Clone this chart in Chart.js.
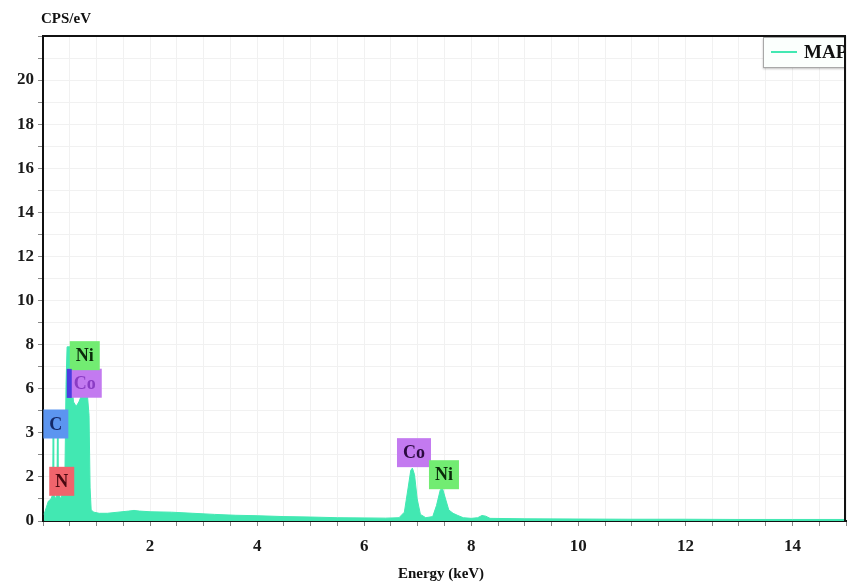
<!DOCTYPE html>
<html>
<head>
<meta charset="utf-8">
<script src="https://cdn.jsdelivr.net/npm/chart.js@4.4.1/dist/chart.umd.min.js"></script>
<style>
  body { margin: 0; background: #fff; }
  #wrap { width: 847px; height: 583px; }
</style>
</head>
<body>
<div id="wrap"><canvas id="spectrum" width="847" height="583"></canvas></div>
<script>
// spectrum (keV, CPS/eV)
const energy = [0.02, 0.06, 0.10, 0.15, 0.18, 0.19, 0.20, 0.24, 0.26, 0.27, 0.28, 0.33, 0.38, 0.41,
  0.43, 0.45, 0.52, 0.54, 0.57, 0.62, 0.67, 0.72, 0.78, 0.83, 0.86, 0.88, 0.90, 0.95, 1.05,
  1.2, 1.4, 1.6, 1.7, 1.8, 2.0, 2.4, 2.8, 3.2, 3.6, 4.0, 4.5, 5.0, 5.5, 6.0, 6.4, 6.65,
  6.75, 6.82, 6.87, 6.90, 6.94, 6.99, 7.05, 7.15, 7.28, 7.35, 7.42, 7.46, 7.52, 7.58, 7.66,
  7.75, 7.85, 8.0, 8.12, 8.2, 8.27, 8.35, 9, 10, 11, 12, 13, 14, 15];
const cps = [0.3, 0.6, 0.9, 1.0, 1.2, 4.2, 1.2, 1.0, 1.3, 4.2, 1.3, 1.0, 1.4, 2.2,
  6.2, 7.9, 7.9, 6.2, 5.4, 5.2, 5.4, 5.7, 5.8, 5.7, 4.8, 1.5, 0.5, 0.4, 0.35,
  0.35, 0.4, 0.45, 0.48, 0.45, 0.42, 0.4, 0.35, 0.3, 0.26, 0.24, 0.2, 0.18, 0.15, 0.14, 0.13, 0.15,
  0.4, 1.5, 2.3, 2.4, 2.1, 1.0, 0.3, 0.15, 0.2, 0.7, 1.4, 1.5, 1.0, 0.5, 0.35,
  0.25, 0.15, 0.12, 0.15, 0.25, 0.22, 0.12, 0.1, 0.09, 0.08, 0.08, 0.07, 0.07, 0.07];

// y tick labels as printed (4 is labelled "3" in the original)
const yTickValues = [0, 2, 4, 6, 8, 10, 12, 14, 16, 18, 20];
const yTickLabels = ['0', '2', '3', '6', '8', '10', '12', '14', '16', '18', '20'];
const xTickValues = [2, 4, 6, 8, 10, 12, 14];

// element labels placed at peaks
const peakNames = ['C', 'N', 'Co', 'Ni', 'Co', 'Ni'];
const peakEnergy = [0.24, 0.35, 0.78, 0.78, 6.93, 7.49];
const peakLevel = [4.4, 1.8, 6.25, 7.5, 3.1, 2.1];

const seriesName = 'MAP';
const fillColor = '#42e8b2';
const serif = "'Liberation Serif', 'Times New Roman', serif";

const boxColors = { C: '#5c95f0', N: '#f0646c', Co: '#c37af0', Ni: '#72ec72' };
const textColors = { C: '#142868', N: '#4a0810', Co: '#2a0a40', Ni: '#0a2a0a' };

const peakLabels = {
  id: 'peakLabels',
  afterDatasetsDraw(chart) {
    const { ctx, scales: { x, y }, chartArea: a } = chart;
    ctx.save();
    ctx.font = 'bold 18px ' + serif;
    ctx.textAlign = 'center';
    ctx.textBaseline = 'middle';
    peakNames.forEach((name, i) => {
      const cx = x.getPixelForValue(peakEnergy[i]);
      const cy = y.getPixelForValue(peakLevel[i]);
      const w = ctx.measureText(name).width + 12;
      const h = 29;
      ctx.fillStyle = boxColors[name];
      ctx.fillRect(cx - w / 2, cy - h / 2, w, h);
      // the low energy Co label is printed in purple
      ctx.fillStyle = (i === 2) ? '#8a3cc4' : textColors[name];
      ctx.fillText(name, cx, cy + 1);
    });
    // small dark marker left of the low Co box
    const mx = x.getPixelForValue(peakEnergy[2]) - 18;
    ctx.fillStyle = '#4a3ce0';
    ctx.fillRect(mx, y.getPixelForValue(6.9), 5, 29);

    // frame on top and right
    ctx.strokeStyle = '#111';
    ctx.lineWidth = 2;
    ctx.beginPath();
    ctx.moveTo(a.left, a.top);
    ctx.lineTo(a.right - 1, a.top);
    ctx.lineTo(a.right - 1, a.bottom);
    ctx.stroke();

    // legend box, cut by the right edge
    ctx.save();
    ctx.beginPath();
    ctx.rect(a.left, a.top, a.right - a.left - 2, a.bottom - a.top);
    ctx.clip();
    const lx = a.right - 83, ly = a.top + 1;
    ctx.shadowColor = 'rgba(0,0,0,0.25)';
    ctx.shadowOffsetY = 2;
    ctx.shadowBlur = 2;
    ctx.fillStyle = '#fbfffd';
    ctx.fillRect(lx, ly, 100, 30);
    ctx.shadowColor = 'transparent';
    ctx.strokeStyle = '#a8a8a8';
    ctx.lineWidth = 1;
    ctx.strokeRect(lx + 0.5, ly + 0.5, 100, 30);
    ctx.strokeStyle = fillColor;
    ctx.lineWidth = 2;
    ctx.beginPath();
    ctx.moveTo(lx + 8, ly + 15);
    ctx.lineTo(lx + 34, ly + 15);
    ctx.stroke();
    ctx.fillStyle = '#111';
    ctx.font = 'bold 19px ' + serif;
    ctx.textAlign = 'left';
    ctx.fillText(seriesName, lx + 41, ly + 16);
    ctx.restore();

    // axis titles
    ctx.fillStyle = '#111';
    ctx.font = 'bold 15px ' + serif;
    ctx.textAlign = 'left';
    ctx.textBaseline = 'alphabetic';
    ctx.fillText('CPS/eV', 41, 23);
    ctx.textAlign = 'center';
    ctx.fillText('Energy (keV)', 441, 578);
    ctx.restore();
  }
};

new Chart(document.getElementById('spectrum'), {
  type: 'line',
  data: {
    datasets: [{
      label: seriesName,
      data: energy.map((e, i) => ({ x: e, y: cps[i] })),
      borderColor: fillColor,
      backgroundColor: fillColor,
      borderWidth: 1,
      fill: 'origin',
      pointRadius: 0,
      tension: 0
    }]
  },
  options: {
    responsive: false,
    animation: false,
    layout: { padding: { top: 36, right: 1, left: 0, bottom: 0 } },
    plugins: {
      legend: { display: false },
      title: { display: false },
      tooltip: { enabled: false }
    },
    scales: {
      x: {
        type: 'linear',
        min: 0,
        max: 15,
        afterFit: (s) => { s.height = 62; s.paddingLeft = 0; s.paddingRight = 0; },
        afterBuildTicks: (s) => {
          const t = [];
          for (let v = 0; v <= 15; v += 0.5) t.push({ value: v });
          s.ticks = t;
        },
        ticks: {
          autoSkip: false,
          maxRotation: 0,
          padding: 10,
          color: '#1a1a1a',
          font: { family: serif, size: 17, weight: 'bold' },
          callback: (v) => xTickValues.includes(v) ? String(v) : ''
        },
        grid: { color: '#f1f1f1', tickColor: '#888', tickLength: 5 },
        border: { color: '#111', width: 2 }
      },
      y: {
        min: 0,
        max: 22,
        afterFit: (s) => { s.width = 43; s.paddingTop = 0; s.paddingBottom = 0; },
        afterBuildTicks: (s) => {
          const t = [];
          for (let v = 0; v <= 22; v += 1) t.push({ value: v });
          s.ticks = t;
        },
        ticks: {
          autoSkip: false,
          padding: 4,
          color: '#1a1a1a',
          font: { family: serif, size: 17, weight: 'bold' },
          callback: (v) => {
            const k = yTickValues.indexOf(v);
            return k >= 0 ? yTickLabels[k] : '';
          }
        },
        grid: { color: '#f1f1f1', tickColor: '#888', tickLength: 5 },
        border: { color: '#111', width: 2 }
      }
    }
  },
  plugins: [peakLabels]
});
</script>
</body>
</html>
